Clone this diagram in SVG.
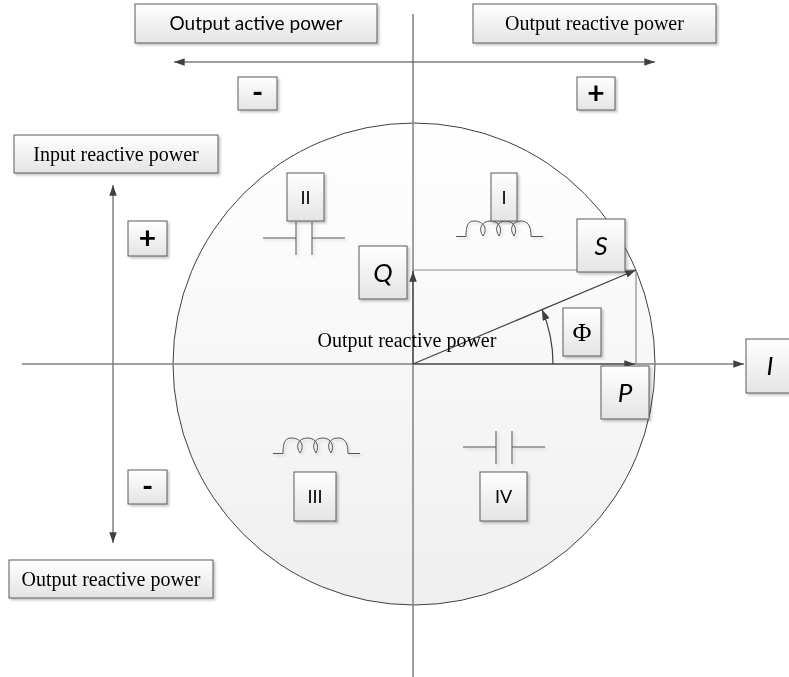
<svg xmlns="http://www.w3.org/2000/svg" width="789" height="677" viewBox="0 0 789 677">
<defs>
<linearGradient id="gCircle" x1="0" y1="0" x2="0" y2="1">
<stop offset="0" stop-color="#ffffff"/>
<stop offset="1" stop-color="#efefef"/>
</linearGradient>
<linearGradient id="gBox" x1="0" y1="0" x2="0" y2="1">
<stop offset="0" stop-color="#ffffff"/>
<stop offset="1" stop-color="#e4e4e4"/>
</linearGradient>
<filter id="shadow" x="-10%" y="-10%" width="130%" height="130%">
<feDropShadow dx="2" dy="2" stdDeviation="1" flood-color="#000" flood-opacity="0.22"/>
</filter>
<filter id="sshadow" x="-10%" y="-20%" width="130%" height="150%">
<feDropShadow dx="2" dy="2" stdDeviation="0.8" flood-color="#000" flood-opacity="0.15"/>
</filter>
<marker id="arr" viewBox="0 0 10 7" refX="10" refY="3.5" markerWidth="11" markerHeight="7.5" markerUnits="userSpaceOnUse" orient="auto-start-reverse">
<path d="M0,0 L10,3.5 L0,7 z" fill="#404040"/>
</marker>
<path id="coil" d="M456,236.5 H466 C466,226 468,221 474,221 C484,221 488,229 483,236 C478,229 481,221 491,221 C499,221 503,229 499,236 C494,229 497,221 506,221 C514,221 518,229 514,236 C509,229 512,221 521,221 C528,221 531,226 531,236.5 H543"/>
<path id="cap" d="M263,238 H296 M296,222 V255 M312,222 V255 M312,238 H345"/>
</defs>
<style>
.box{fill:url(#gBox);stroke:#5a5a5a;stroke-width:1;filter:url(#shadow)}
.serif{font-family:"Liberation Serif","Times New Roman",serif;font-size:20px;fill:#000;text-anchor:middle}
.sans{font-family:Lato,"Liberation Sans",sans-serif;fill:#000;text-anchor:middle}
.lbl{font-size:19px}
.it{font-size:26px;font-style:italic}
.rom{font-size:18px}
.sign{font-size:30px;font-weight:bold}
.axis{stroke:#808080;stroke-width:1.5;fill:none}
.vec{stroke:#404040;stroke-width:1.2;fill:none}
.proj{stroke:#8a8a8a;stroke-width:1.2;fill:none}
.sym{stroke:#555;stroke-width:1;fill:none}
</style>

<g id="circle">
<circle cx="414" cy="364" r="241" fill="url(#gCircle)" stroke="#404040" stroke-width="1"/>
</g>

<g id="symbols" filter="url(#sshadow)">
<use href="#coil" class="sym"/>
<use href="#coil" class="sym" transform="translate(-183,217)"/>
<use href="#cap" class="sym"/>
<use href="#cap" class="sym" transform="translate(200,209)"/>
</g>

<g id="connectors">
<line class="axis" x1="413" y1="14" x2="413" y2="677"/>
<line class="axis" x1="22" y1="364" x2="744" y2="364" marker-end="url(#arr)"/>
<line class="vec" x1="174" y1="62" x2="655" y2="62" marker-start="url(#arr)" marker-end="url(#arr)"/>
<line class="axis" x1="113" y1="185" x2="113" y2="543" marker-start="url(#arr)" marker-end="url(#arr)"/>
<line class="proj" x1="413" y1="270" x2="636" y2="270"/>
<line class="proj" x1="636" y1="270" x2="636" y2="364"/>
<line class="vec" x1="413" y1="364" x2="413" y2="271" marker-end="url(#arr)"/>
<line class="vec" x1="413" y1="364" x2="635" y2="364" marker-end="url(#arr)"/>
<line class="vec" x1="413" y1="364" x2="636" y2="270" marker-end="url(#arr)"/>
<path class="vec" d="M553,364 A140,140 0 0 0 542,309.6" marker-end="url(#arr)"/>
</g>

<g id="label-center">
<text class="serif" x="407" y="347">Output reactive power</text>
</g>

<g id="n-out-active">
<rect class="box" x="135" y="4" width="242" height="39"/>
<text class="sans lbl" x="256" y="30">Output active power</text>
</g>
<g id="n-out-reactive-top">
<rect class="box" x="473" y="4" width="243" height="39"/>
<text class="serif" x="594.5" y="30">Output reactive power</text>
</g>
<g id="n-minus-top">
<rect class="box" x="238" y="77" width="39" height="33"/>
<text class="sans sign" x="257.5" y="103">-</text>
</g>
<g id="n-plus-top">
<rect class="box" x="577" y="77" width="38" height="33"/>
<text class="sans sign" x="596" y="104">+</text>
</g>
<g id="n-input-reactive">
<rect class="box" x="14" y="135" width="204" height="38"/>
<text class="serif" x="116" y="161">Input reactive power</text>
</g>
<g id="n-plus-left">
<rect class="box" x="128" y="221" width="39" height="35"/>
<text class="sans sign" x="147.5" y="249">+</text>
</g>
<g id="n-minus-left">
<rect class="box" x="128" y="470" width="39" height="34"/>
<text class="sans sign" x="147.5" y="497">-</text>
</g>
<g id="n-out-reactive-bottom">
<rect class="box" x="9" y="560" width="204" height="38"/>
<text class="serif" x="111" y="586">Output reactive power</text>
</g>
<g id="n-II">
<rect class="box" x="287" y="173" width="37" height="48"/>
<text class="sans rom" x="305.5" y="203.5">II</text>
</g>
<g id="n-I">
<rect class="box" x="491" y="173" width="26" height="48"/>
<text class="sans rom" x="504" y="203.5">I</text>
</g>
<g id="n-Q">
<rect class="box" x="359" y="246" width="48" height="53"/>
<text class="sans it" x="383" y="282">Q</text>
</g>
<g id="n-S">
<rect class="box" x="577" y="219" width="48" height="53"/>
<text class="sans it" x="601" y="255">S</text>
</g>
<g id="n-phi">
<rect class="box" x="563" y="308" width="38" height="48"/>
<text class="serif" style="font-size:26px" x="582" y="341">Φ</text>
</g>
<g id="n-P">
<rect class="box" x="601" y="366" width="48" height="53"/>
<text class="sans it" x="625" y="402">P</text>
</g>
<g id="n-Icur">
<rect class="box" x="746" y="339" width="48" height="54"/>
<text class="sans it" x="770" y="375">I</text>
</g>
<g id="n-III">
<rect class="box" x="294" y="472" width="42" height="49"/>
<text class="sans rom" x="315" y="503">III</text>
</g>
<g id="n-IV">
<rect class="box" x="480" y="472" width="47" height="49"/>
<text class="sans rom" x="503.5" y="503">IV</text>
</g>
</svg>
